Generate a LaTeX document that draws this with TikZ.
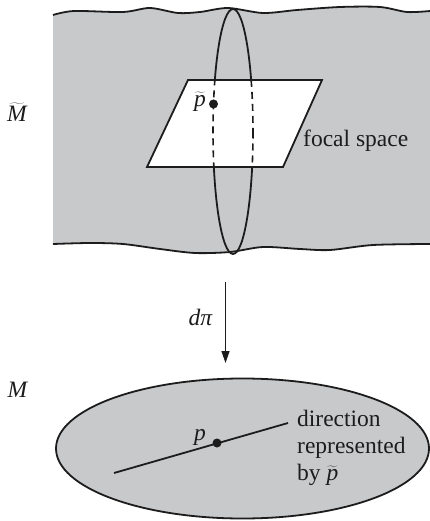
\documentclass[tikz,border=0pt]{standalone}
\usepackage{fontspec}
\setmainfont{Liberation Serif}
\usetikzlibrary{arrows.meta}
\definecolor{sheet}{RGB}{200,201,203}
\definecolor{ink}{RGB}{28,28,28}
\tikzset{
  edge/.style={line width=1.8pt, draw=ink},
  hidden/.style={line width=1.6pt, draw=ink, dash pattern=on 7pt off 5pt},
  lbl/.style={font=\fontsize{23.5}{27}\selectfont, text=ink, inner sep=0pt},
  dot/.style={circle, fill=ink, inner sep=0pt, minimum size=9pt},
  arrow/.style={-{Triangle[length=12pt,width=8pt]}, line width=1.5pt, draw=ink}
}

\begin{document}
\begin{tikzpicture}[x=1pt,y=-1pt]
  \useasboundingbox (0,0) rectangle (430,521);
  % the total space
  \fill[sheet] plot[smooth] coordinates {(53,15) (74,11) (123,12) (150,8) (178,13) (200,12) (228,8) (263,13) (297,10) (340,7) (380,7) (407,12) (430,11)}
    -- plot[smooth] coordinates {(430,244) (373,245) (330,250) (300,249) (263,247) (230,252) (195,253) (160,249) (123,244) (90,243) (53,244)}
    -- cycle;
  \draw[edge] plot[smooth] coordinates {(53,15) (74,11) (123,12) (150,8) (178,13) (200,12) (228,8) (263,13) (297,10) (340,7) (380,7) (407,12) (430,11)};
  \draw[edge] plot[smooth] coordinates {(53,244) (90,243) (123,244) (160,249) (195,253) (230,252) (263,247) (300,249) (330,250) (373,245) (430,244)};
  % fibre and focal space
  \draw[edge] (233,131.5) ellipse [x radius=20, y radius=122.5];
  \draw[edge, fill=white] (188,80) -- (322,80) -- (283,167) -- (147,167) -- cycle;
  \begin{scope}
    \clip (188,80) -- (322,80) -- (283,167) -- (147,167) -- cycle;
    \draw[hidden] (233,131.5) ellipse [x radius=20, y radius=122.5];
  \end{scope}
  \node[dot] (pt) at (213.5,104) {};
  \node[lbl, anchor=east] (ptlbl) at (206,102) {$\widetilde{\textit{p}}$};
  \node[lbl, anchor=base west] (focal) at (303,147) {focal space};
  \node[lbl] (Mt) at (17,112) {$\widetilde{\textit{M}}$};
  % projection
  \coordinate (arrtop) at (225.5,282);
  \coordinate (arrbot) at (225.5,363);
  \draw[arrow] (arrtop) -- (arrbot);
  \node[lbl, anchor=base east] (dpi) at (213,325) {\textit{dπ}};
  % the base
  \node[lbl] (M) at (18,390) {\textit{M}};
  \draw[edge, fill=sheet] (242.5,448.5) ellipse [x radius=186.5, y radius=70];
  \coordinate (lineA) at (114,473);
  \coordinate (lineB) at (288,423);
  \draw[edge] (lineA) -- (lineB);
  \node[dot] (p) at (217,443) {};
  \node[lbl, anchor=base] (plbl) at (200,440) {\textit{p}};
  \node[lbl, anchor=base west] (dir1) at (297,426) {direction};
  \node[lbl, anchor=base west] (dir2) at (297,453) {represented};
  \node[lbl, anchor=base west] (dir3) at (297,480) {by $\widetilde{\textit{p}}$};
\end{tikzpicture}
\end{document}
